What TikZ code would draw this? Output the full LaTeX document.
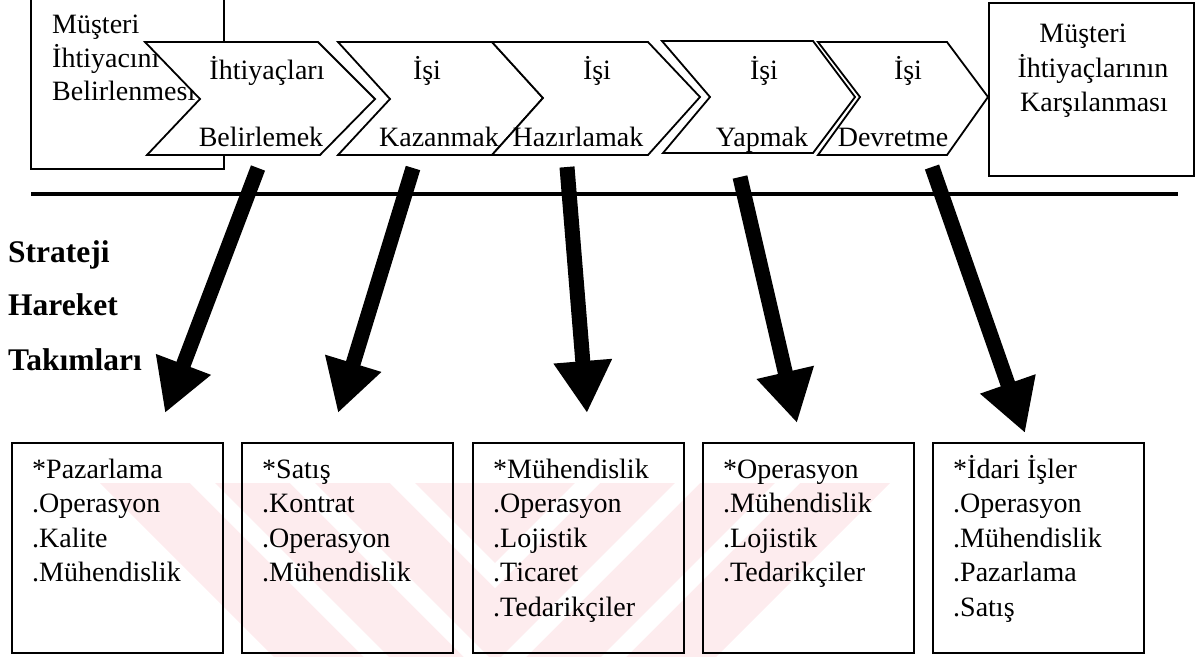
\documentclass[tikz,border=0pt]{standalone}
\usepackage{fontspec}
\setmainfont{Liberation Serif}
\usetikzlibrary{arrows.meta}
\definecolor{wmpink}{RGB}{253,236,238}
\begin{document}
\begin{tikzpicture}[x=1pt,y=-1pt,
  frame/.style={draw, line width=1.6pt, fill=white, inner sep=0pt, anchor=north west},
  team/.style={frame, fill=none, minimum width=211pt, minimum height=210pt},
  chev/.style={draw, line width=1.8pt, fill=white, line join=miter},
  lbl/.style={inner sep=0pt, anchor=base, font=\fontsize{28}{34}\selectfont},
  item/.style={lbl, anchor=base west},
  side/.style={inner sep=0pt, anchor=base west, font=\bfseries\fontsize{31.5}{38}\selectfont},
  bigarrow/.style={line width=15pt, -{Triangle[length=52pt,width=55pt]}},
  spine/.style={line width=4pt}]
\useasboundingbox (0,0) rectangle (1195,657);

% faint background mark behind the team boxes
\begin{scope}
  \clip (100,483) -- (890,483) -- (716,657) -- (274,657) -- cycle;
  \fill[wmpink] (100,483) rectangle (890,657);
  \begin{scope}
    \clip (0,483) rectangle (495,657);
    \foreach \s in {190,290,390}
      \fill[white] (\s,483) -- ({\s+25},483) -- ({\s+199},657) -- ({\s+174},657) -- cycle;
  \end{scope}
  \begin{scope}
    \clip (495,483) rectangle (900,657);
    \foreach \s in {600,700,800}
      \fill[white] (\s,483) -- ({\s-25},483) -- ({\s-199},657) -- ({\s-174},657) -- cycle;
  \end{scope}
\end{scope}

% end boxes of the process
\node[frame, minimum width=193pt, minimum height=180pt] (need) at (30,-12) {};
\node[item] (need-1) at (52,33) {Müşteri};
\node[item] (need-2) at (52,67) {İhtiyacını};
\node[item] (need-3) at (52,100) {Belirlenmesi};

\node[frame, minimum width=205pt, minimum height=173pt] (meet) at (988,2) {};
\node[lbl] (meet-1) at (1083,42) {Müşteri};
\node[lbl] (meet-2) at (1093,77) {İhtiyaçlarının};
\node[lbl] (meet-3) at (1094,111) {Karşılanması};

% process chevrons
\draw[chev] (145,42) -- (318,42) -- (375,99) -- (320,155) -- (147,155) -- (200,99) -- cycle;
\draw[chev] (338,42) -- (492,42) -- (543,98) -- (492,155) -- (338,155) -- (390,99) -- cycle;
\draw[chev] (492,42) -- (648,42) -- (700,97) -- (648,155) -- (492,155) -- (543,98) -- cycle;
\draw[chev] (662,41) -- (813,41) -- (855,97) -- (813,153) -- (663,153) -- (710,97) -- cycle;
\draw[chev] (818,42) -- (947,42) -- (988,97) -- (947,155) -- (818,155) -- (860,97) -- cycle;

\node[lbl] (c1a) at (267,79) {İhtiyaçları};
\node[lbl] (c1b) at (261,146) {Belirlemek};
\node[lbl] (c2a) at (427,79) {İşi};
\node[lbl] (c2b) at (439,146) {Kazanmak};
\node[lbl] (c3a) at (597,79) {İşi};
\node[lbl] (c3b) at (578,146) {Hazırlamak};
\node[lbl] (c4a) at (764,79) {İşi};
\node[lbl] (c4b) at (762,146) {Yapmak};
\node[lbl] (c5a) at (908,79) {İşi};
\node[lbl] (c5b) at (893,146) {Devretme};

% dividing line
\coordinate (sp0) at (31,194);
\coordinate (sp1) at (1178,194);
\draw[spine] (sp0) -- (sp1);

% side labels
\node[side] (s1) at (8,262) {Strateji};
\node[side] (s2) at (8,315) {Hareket};
\node[side] (s3) at (8,370) {Takımları};

% team boxes
\foreach \bx/\bn/\items in {
  11/b1/{*Pazarlama,.Operasyon,.Kalite,.Mühendislik},
  241/b2/{*Satış,.Kontrat,.Operasyon,.Mühendislik},
  472/b3/{*Mühendislik,.Operasyon,.Lojistik,.Ticaret,.Tedarikçiler},
  702/b4/{*Operasyon,.Mühendislik,.Lojistik,.Tedarikçiler},
  932/b5/{*İdari İşler,.Operasyon,.Mühendislik,.Pazarlama,.Satış}}{
  \node[team] (\bn) at (\bx,442) {};
  \foreach \t [count=\i] in \items
    \node[item] (\bn-\i) at ({\bx+21},{478+34.5*(\i-1)}) {\t};
}

% arrows from the process steps to the teams
\coordinate (a1s) at (258,168); \coordinate (a1e) at (165,413);
\coordinate (a2s) at (413,168); \coordinate (a2e) at (338,413);
\coordinate (a3s) at (567,167); \coordinate (a3e) at (587,413);
\coordinate (a4s) at (740,177); \coordinate (a4e) at (797,423);
\coordinate (a5s) at (932,167); \coordinate (a5e) at (1025,433);
\foreach \k in {1,...,5}
  \draw[bigarrow] (a\k s) -- (a\k e);
\end{tikzpicture}
\end{document}
